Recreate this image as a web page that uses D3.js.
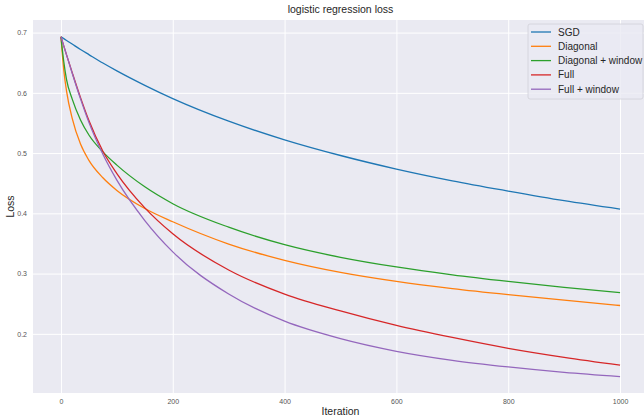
<!DOCTYPE html>
<meta charset="utf-8">
<head>
<style>
  body { margin: 0; background: #fff; }
  svg { display: block; font-family: "Liberation Sans", Arial, sans-serif; }
  .line { fill: none; stroke-width: 1.3px; }
</style>
</head>
<body>
<script src="https://d3js.org/d3.v7.min.js"></script>
<script>
// values
var iterations = [0, 5, 10, 20, 35, 50, 75, 100, 150, 200, 300, 400, 500, 600, 700, 800, 900, 1000];
var sgd        = [0.693, 0.690, 0.687, 0.681, 0.672, 0.6635, 0.6495, 0.6365, 0.6125, 0.5905, 0.553, 0.522, 0.496, 0.4735, 0.454, 0.437, 0.421, 0.407];
var diagonal   = [0.693, 0.638, 0.603, 0.558, 0.515, 0.488, 0.459, 0.438, 0.408, 0.386, 0.349, 0.322, 0.302, 0.287, 0.275, 0.265, 0.256, 0.247];
var diagWindow = [0.693, 0.652, 0.622, 0.590, 0.555, 0.530, 0.502, 0.480, 0.444, 0.416, 0.377, 0.348, 0.327, 0.311, 0.298, 0.287, 0.277, 0.2685];
var full       = [0.693, 0.678, 0.663, 0.634, 0.592, 0.554, 0.503, 0.466, 0.409, 0.366, 0.306, 0.266, 0.238, 0.214, 0.194, 0.176, 0.161, 0.148];
var fullWindow = [0.693, 0.678, 0.663, 0.633, 0.590, 0.551, 0.498, 0.455, 0.388, 0.336, 0.266, 0.221, 0.192, 0.171, 0.156, 0.145, 0.136, 0.129];
var seriesNames = ["SGD", "Diagonal", "Diagonal + window", "Full", "Full + window"];
var seriesColors = ["#1f77b4", "#ff7f0e", "#2ca02c", "#d62728", "#9467bd"];
var xTicks = [0, 200, 400, 600, 800, 1000];
var yTicks = [0.2, 0.3, 0.4, 0.5, 0.6, 0.7];

var W = 644, H = 416;
var margin = {top: 20, right: -4, bottom: 23, left: 33},
    width = W - margin.left - margin.right,
    height = H - margin.top - margin.bottom;

var svg = d3.select("body").append("svg")
    .attr("width", W)
    .attr("height", H);

var g = svg.append("g")
    .attr("transform", "translate(" + margin.left + "," + margin.top + ")");

var x = d3.scaleLinear().domain([-50, 1050]).range([0, width]);
var y = d3.scaleLinear().domain([0.1018, 0.7209]).range([height, 0]);

g.append("rect")
    .attr("width", width)
    .attr("height", height)
    .attr("fill", "#eaeaf2");

function styleAxis(a) {
    a.select(".domain").remove();
    a.selectAll(".tick line").attr("stroke", "#fff").attr("stroke-width", 1);
    a.selectAll(".tick text").attr("fill", "#555").style("font-size", "7px");
}

// grid
g.append("g")
    .attr("transform", "translate(0," + height + ")")
    .call(d3.axisBottom(x).tickValues(xTicks).tickSize(-height).tickPadding(6).tickFormat(d3.format("d")))
    .call(styleAxis);

g.append("g")
    .call(d3.axisLeft(y).tickValues(yTicks).tickSize(-width).tickPadding(6).tickFormat(d3.format(".1f")))
    .call(styleAxis);

var all = [sgd, diagonal, diagWindow, full, fullWindow];
var line = d3.line()
    .x(function(d, i) { return x(iterations[i]); })
    .y(function(d) { return y(d); })
    .curve(d3.curveMonotoneX);

all.forEach(function(s, k) {
    g.append("path")
        .datum(s)
        .attr("class", "line")
        .style("stroke", seriesColors[k])
        .attr("d", line);
});

// title and labels
svg.append("text")
    .attr("x", margin.left + width / 2)
    .attr("y", 13)
    .attr("text-anchor", "middle")
    .style("font-size", "10.5px")
    .style("fill", "#262626")
    .text("logistic regression loss");

svg.append("text")
    .attr("x", margin.left + width / 2)
    .attr("y", 415)
    .attr("text-anchor", "middle")
    .style("font-size", "10.5px")
    .style("fill", "#262626")
    .text("Iteration");

svg.append("text")
    .attr("transform", "translate(14," + (margin.top + height / 2) + ") rotate(-90)")
    .attr("text-anchor", "middle")
    .style("font-size", "10.5px")
    .style("fill", "#262626")
    .text("Loss");

// legend
var legend = svg.append("g").attr("transform", "translate(528,24)");
legend.append("rect")
    .attr("width", 115)
    .attr("height", 75)
    .attr("rx", 2)
    .attr("fill", "#eaeaf2")
    .attr("fill-opacity", 0.8)
    .attr("stroke", "#d0d0d8")
    .attr("stroke-width", 0.8);

var item = legend.selectAll(".legend")
    .data(seriesNames)
    .enter().append("g")
    .attr("class", "legend")
    .attr("transform", function(d, i) { return "translate(0," + (8 + i * 14.3) + ")"; });

item.append("line")
    .attr("x1", 3).attr("x2", 23)
    .attr("stroke-width", 1.3)
    .attr("stroke", function(d, i) { return seriesColors[i]; });

item.append("text")
    .attr("x", 30)
    .attr("dy", "0.35em")
    .style("font-size", "10px")
    .style("fill", "#262626")
    .text(function(d) { return d; });
</script>
</body>
